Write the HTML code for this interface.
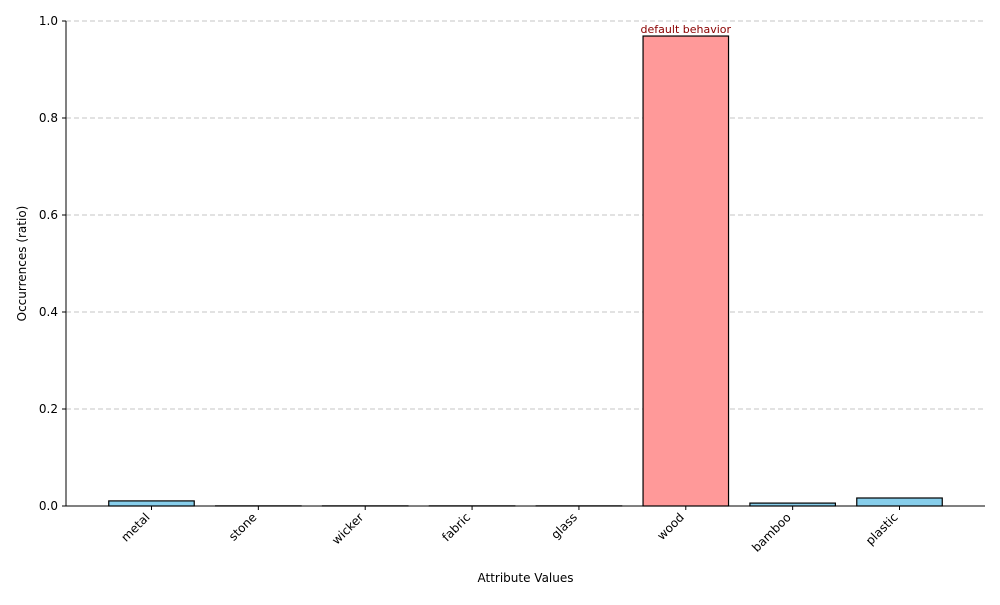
<!DOCTYPE html>
<html><head><meta charset="utf-8"><style>body{margin:0;background:#fff}svg{font-family:"DejaVu Sans","Liberation Sans",sans-serif}</style></head>
<body>
<svg id="chart" width="1000" height="600"></svg>
<script>
const categories = ["metal","stone","wicker","fabric","glass","wood","bamboo","plastic"];
const values = [0.0105,0.0003,0.0003,0.0003,0.0003,0.969,0.006,0.0165];
const highlight = [false,false,false,false,false,true,false,false];
const yTicks = [0,0.2,0.4,0.6,0.8,1.0];
const yTickLabels = ["0.0","0.2","0.4","0.6","0.8","1.0"];
const annotationText = "default behavior";

const NS="http://www.w3.org/2000/svg";
const svg=document.getElementById('chart');
const L=66,R=985,T=21,B=506;
const x=i=>L+(i+0.8)*(R-L)/8.6;
const y=v=>B-v*(B-T);
function el(t,a,p){const e=document.createElementNS(NS,t);for(const k in a)e.setAttribute(k,a[k]);(p||svg).appendChild(e);return e;}
yTicks.forEach((v,i)=>{
  if(v>0){const g=el('line',{x1:L,x2:R,y1:y(v),y2:y(v),stroke:'#c4c4c4','stroke-dasharray':'5,3'});
  
  }
  el('line',{x1:L-4,x2:L,y1:y(v),y2:y(v),stroke:'#000'});
  const t=el('text',{x:L-8,y:y(v)+4,'text-anchor':'end','font-size':12});
  t.textContent=yTickLabels[i];
  
  
});
const bw=0.8*(R-L)/8.6;
categories.forEach((c,i)=>{
  const r=el('rect',{x:x(i)-bw/2,y:y(values[i]),width:bw,height:B-y(values[i]),fill:highlight[i]?'#ff9999':'#87ceeb',stroke:'#000','stroke-width':1.2});
  
  
  el('line',{x1:x(i),x2:x(i),y1:B,y2:B+4,stroke:'#000'});
  const t=el('text',{transform:`translate(${x(i)-1},${B+12}) rotate(-45)`,'text-anchor':'end','font-size':12});
  t.textContent=c;
  
  
  if(highlight[i]){const a=el('text',{x:x(i),y:y(values[i])-3,'text-anchor':'middle','font-size':11,fill:'#8b0000'});
  a.textContent=annotationText;
  
  }
});
el('line',{x1:L,x2:L,y1:T,y2:B,stroke:'#000'});
el('line',{x1:L,x2:R,y1:B,y2:B,stroke:'#000'});
const xt=el('text',{x:(L+R)/2,y:582,'text-anchor':'middle','font-size':12});xt.textContent="Attribute Values";


const yt=el('text',{transform:`translate(26,${(T+B)/2}) rotate(-90)`,'text-anchor':'middle','font-size':12});yt.textContent="Occurrences (ratio)";


</script>
</body></html>
